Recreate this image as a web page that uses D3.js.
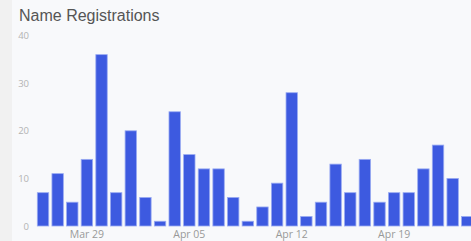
<!DOCTYPE html>
<html><head><meta charset="utf-8">
<script src="https://cdn.jsdelivr.net/npm/d3@7"></script>
<style>
html,body{margin:0;padding:0;background:#f1f1f1;}
svg{display:block;}
</style></head>
<body>
<svg id="chart" width="471" height="241"></svg>
<script>
const dates = ["2020-03-26","2020-03-27","2020-03-28","2020-03-29","2020-03-30","2020-03-31","2020-04-01","2020-04-02","2020-04-03","2020-04-04","2020-04-05","2020-04-06","2020-04-07","2020-04-08","2020-04-09","2020-04-10","2020-04-11","2020-04-12","2020-04-13","2020-04-14","2020-04-15","2020-04-16","2020-04-17","2020-04-18","2020-04-19","2020-04-20","2020-04-21","2020-04-22","2020-04-23","2020-04-24"];
const registrations = [7,11,5,14,36,7,20,6,1,24,15,12,12,6,1,4,9,28,2,5,13,7,14,5,7,7,12,17,10,2];
const xTickDates = ["2020-03-29","2020-04-05","2020-04-12","2020-04-19"];
const yTicks = [0,10,20,30,40];
const title = "Name Registrations";

const svg = d3.select("#chart");
const W = 471, H = 241;
svg.append("rect").attr("x",0).attr("y",0).attr("width",W).attr("height",H).attr("fill","#f1f1f1");
svg.append("rect").attr("x",12).attr("y",0).attr("width",W-12).attr("height",H).attr("fill","#f8f9fb");

const parse = d3.timeParse("%Y-%m-%d");
const fmt = d3.timeFormat("%b %d");

const x = d3.scaleBand().domain(dates).range([35.7, 474.6]).paddingInner(0.22).paddingOuter(0.11);
const y = d3.scaleLinear().domain([0,40]).range([226, 35.6]);

svg.append("text").attr("x",19).attr("y",21).text(title)
  .attr("font-family","Liberation Sans, Arial, sans-serif").attr("font-size",16).attr("fill","#555");

const yAxis = d3.axisLeft(y).tickValues(yTicks).tickSize(0).tickPadding(0);
const gy = svg.append("g").attr("transform","translate(29,0)").call(yAxis);
gy.select(".domain").remove();
gy.selectAll("text").attr("font-family","Open Sans, sans-serif").attr("font-size",9.5).attr("fill","#b3b3b3");

svg.append("g").selectAll("rect").data(registrations).join("rect")
  .attr("x",(d,i)=>x(dates[i]))
  .attr("y",d=>y(d))
  .attr("width",x.bandwidth())
  .attr("height",d=>y(0)-y(d))
  .attr("fill","#3d5ae0")
  .attr("stroke","#9aabf2")
  .attr("stroke-width",0.8);

const xAxis = d3.axisBottom(x).tickValues(xTickDates).tickSize(0).tickPadding(0)
  .tickFormat(d=>fmt(parse(d)));
const gx = svg.append("g").attr("transform","translate(0,231)").call(xAxis);
gx.select(".domain").remove();
gx.selectAll("text").attr("font-family","Open Sans, sans-serif").attr("font-size",10.5).attr("fill","#999");
</script>
</body></html>
